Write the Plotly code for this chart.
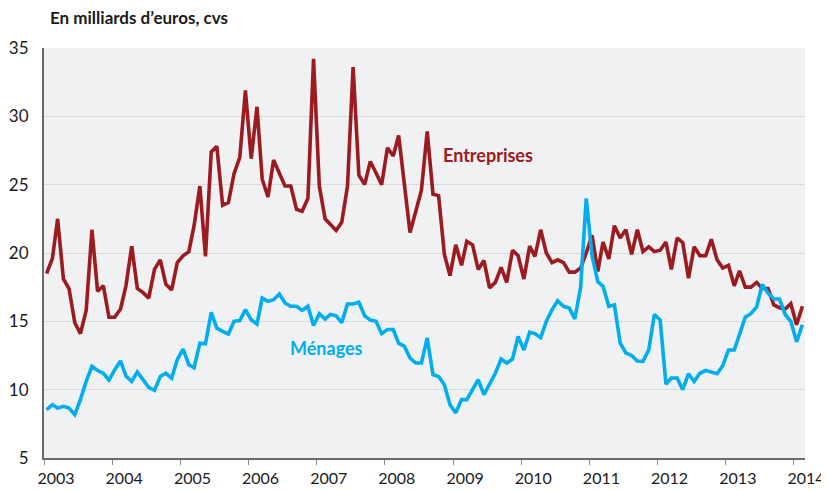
import pandas as pd
import plotly.graph_objects as go

# Monthly data, Jan 2003 - Feb 2014 (billions of euros, seasonally adjusted)
months = pd.date_range("2003-01-01", periods=134, freq="MS") + pd.Timedelta(days=14)

entreprises = [
    18.5, 19.6, 22.5, 18.1, 17.4, 14.9, 14.1, 15.8, 21.7, 17.2, 17.6, 15.3,
    15.3, 15.9, 17.6, 20.5, 17.4, 17.1, 16.7, 18.8, 19.5, 17.7, 17.3, 19.3,
    19.8, 20.1, 22.0, 24.9, 19.75, 27.4, 27.8, 23.5, 23.7, 25.8, 27.0, 31.9,
    26.9, 30.7, 25.4, 24.1, 26.8, 25.85, 24.9, 24.9, 23.2, 23.05, 24.0, 34.2,
    24.9, 22.5, 22.1, 21.65, 22.25, 24.9, 33.6, 25.7, 25.0, 26.7, 25.85, 25.0,
    27.7, 27.1, 28.6, 24.9, 21.5, 23.05, 24.6, 28.9, 24.3, 24.2, 19.9, 18.35,
    20.6, 19.1, 20.85, 20.6, 18.8, 19.45, 17.45, 17.85, 18.95, 17.85, 20.2, 19.8,
    18.1, 20.5, 19.75, 21.7, 20.0, 19.3, 19.5, 19.3, 18.6, 18.6, 18.9, 20.0,
    21.3, 18.65, 20.8, 19.56, 22.0, 21.1, 21.7, 19.9, 21.7, 20.1, 20.45, 20.1,
    20.2, 20.8, 18.8, 21.1, 20.75, 18.15, 20.45, 19.8, 19.8, 21.0, 19.5, 18.9,
    19.1, 17.6, 18.7, 17.5, 17.5, 17.85, 17.4, 17.4, 16.2, 16.0, 15.9, 16.3,
    14.75, 16.1,
]

menages = [
    8.53, 8.9, 8.65, 8.78, 8.65, 8.17, 9.27, 10.6, 11.7, 11.4, 11.2, 10.7,
    11.46, 12.1, 11.0, 10.6, 11.3, 10.7, 10.17, 9.95, 10.97, 11.2, 10.85, 12.2,
    12.97, 11.83, 11.6, 13.4, 13.36, 15.65, 14.5, 14.27, 14.07, 15.0, 15.05, 15.85,
    15.12, 14.8, 16.7, 16.46, 16.58, 17.0, 16.34, 16.1, 16.1, 15.8, 16.1, 14.7,
    15.56, 15.17, 15.5, 15.4, 14.9, 16.27, 16.27, 16.4, 15.4, 15.1, 15.0, 14.1,
    14.4, 14.4, 13.4, 13.17, 12.3, 11.95, 11.95, 13.78, 11.1, 10.97, 10.36, 8.9,
    8.3, 9.27, 9.27, 10.0, 10.73, 9.63, 10.36, 11.2, 12.24, 11.95, 12.24, 13.9,
    12.9, 14.2, 14.1, 13.8, 15.0, 15.85, 16.5, 16.1, 15.97, 15.17, 17.5, 24.0,
    19.8, 17.9, 17.56, 16.1, 16.2, 13.4, 12.7, 12.5, 12.1, 12.07, 12.9, 15.5,
    15.1, 10.4, 10.85, 10.85, 10.0, 11.17, 10.6, 11.2, 11.4, 11.27, 11.17, 11.75,
    12.9, 12.9, 14.0, 15.3, 15.56, 16.05, 17.7, 17.07, 16.63, 16.63, 15.5, 15.0,
    13.5, 14.75,
]

year_ticks = [f"{y}-01-01" for y in range(2003, 2015)]
year_labels = [str(y) for y in range(2003, 2015)]
y_ticks = [5, 10, 15, 20, 25, 30, 35]

RED = "#9b1b21"
BLUE = "#00aeef"
FONT = "Lato"

# The page body adds an 8 px margin; the figure is sized to fit the 829x490 window.
W, H = 821, 482

fig = go.Figure()
fig.add_trace(go.Scatter(x=months, y=entreprises, mode="lines",
                         line=dict(color=RED, width=3.6), name="Entreprises"))
fig.add_trace(go.Scatter(x=months, y=menages, mode="lines",
                         line=dict(color=BLUE, width=3.6), name="Ménages"))

fig.add_annotation(x="2009-07-08", y=27.2, text="<b>Entreprises</b>", showarrow=False,
                   font=dict(family=FONT, size=18, color=RED))
fig.add_annotation(x="2007-02-24", y=13.07, text="<b>Ménages</b>", showarrow=False,
                   font=dict(family=FONT, size=18, color=BLUE))

fig.update_layout(
    width=W, height=H,
    margin=dict(l=36, r=24, t=40, b=32),
    paper_bgcolor="white",
    plot_bgcolor="#f0f1f3",
    showlegend=False,
    font=dict(family=FONT, size=17, color="#1a1a1a"),
    title=dict(text="<b>En milliards d’euros, cvs</b>", x=42 / W, xanchor="left",
               xref="container", y=1 - 10 / H, yanchor="middle", yref="container",
               font=dict(family=FONT, size=17, color="#1a1a1a")),
    xaxis=dict(
        type="date", range=["2003-01-01", "2014-03-01"],
        tickvals=year_ticks, ticktext=year_labels,
        ticks="outside", ticklen=5, tickcolor="#888888", tickwidth=1,
        ticklabelshift=12, ticklabelstandoff=0,
        showgrid=False, zeroline=False, automargin=False,
        showline=True, linecolor="#6b6b6b", linewidth=2,
        tickfont=dict(family=FONT, size=16, color="#1a1a1a"),
    ),
    yaxis=dict(
        range=[5, 35], tickvals=y_ticks,
        showgrid=True, gridcolor="#d9dadc", gridwidth=1,
        zeroline=False, ticks="", automargin=False,
        showline=True, linecolor="#6b6b6b", linewidth=2,
        ticklabelstandoff=10,
        tickfont=dict(family=FONT, size=17, color="#1a1a1a"),
    ),
)

fig.write_html("out.html")
